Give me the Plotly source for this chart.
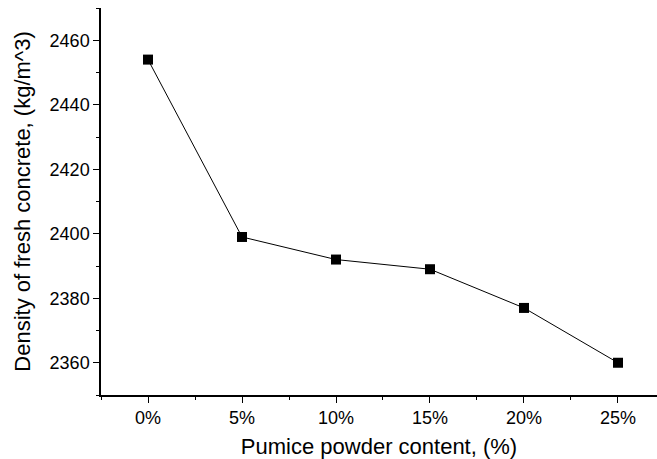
import plotly.graph_objects as go

# Pumice powder replacement levels and measured fresh density
content_labels = ["0%", "5%", "10%", "15%", "20%", "25%"]
content_pos = [0, 1, 2, 3, 4, 5]
density = [2454, 2399, 2392, 2389, 2377, 2360]

y_ticks = [2360, 2380, 2400, 2420, 2440, 2460]

font_family = "Liberation Sans, Arial, sans-serif"

fig = go.Figure()
fig.add_trace(go.Scatter(
    x=content_pos,
    y=density,
    mode="lines+markers",
    line=dict(color="black", width=1),
    marker=dict(symbol="square", size=10, color="black"),
    showlegend=False,
))

fig.update_layout(
    width=657,
    height=459,
    margin=dict(l=101, r=0, t=8, b=64),
    paper_bgcolor="white",
    plot_bgcolor="white",
    font=dict(family=font_family, color="black"),
)

fig.update_xaxes(
    range=[-0.5, 5.415],
    tickvals=content_pos,
    ticktext=content_labels,
    showgrid=False,
    zeroline=False,
    showline=True,
    linecolor="black",
    linewidth=1.5,
    ticks="outside",
    ticklen=6,
    tickwidth=1.2,
    tickcolor="black",
    tickfont=dict(size=18),
    minor=dict(tick0=0, dtick=0.5, ticks="outside", ticklen=3, tickwidth=1.2, tickcolor="black"),
    title=dict(text="Pumice powder content, (%)", font=dict(size=22), standoff=11),
)

fig.update_yaxes(
    range=[2350, 2470],
    tickvals=y_ticks,
    showgrid=False,
    zeroline=False,
    showline=True,
    linecolor="black",
    linewidth=1.5,
    ticks="outside",
    ticklen=6,
    tickwidth=1.2,
    tickcolor="black",
    tickfont=dict(size=18),
    minor=dict(tick0=2350, dtick=10, ticks="outside", ticklen=3, tickwidth=1.2, tickcolor="black"),
    title=dict(text="Density of fresh concrete, (kg/m^3)", font=dict(size=22), standoff=13),
)

fig.write_html("out.html")
